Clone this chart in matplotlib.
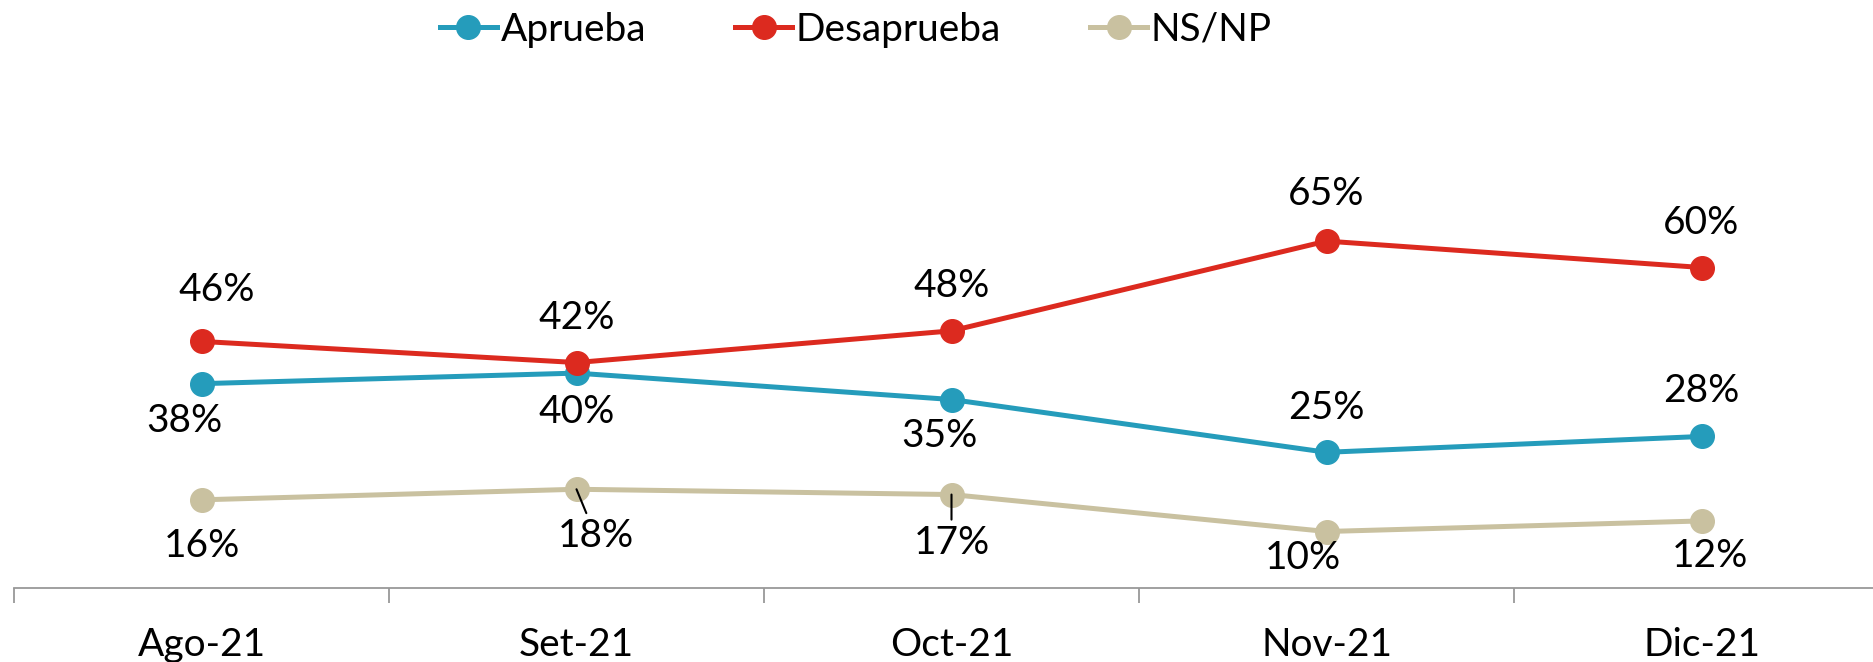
import numpy as np
import matplotlib.pyplot as plt

plt.rcParams['font.family'] = ['Lato', 'DejaVu Sans']

meses = ['Ago-21', 'Set-21', 'Oct-21', 'Nov-21', 'Dic-21']
aprueba = [38, 40, 35, 25, 28]
desaprueba = [46, 42, 48, 65, 60]
nsnp = [16, 18, 17, 10, 12]

c_apr = '#259cbb'
c_des = '#dc2a1f'
c_ns = '#c9c1a0'

# label offsets in points (dx, dy)
off_apr = [(-12, -27), (0, -28), (-9, -26), (0, 32), (0, 33)]
off_des = [(11, 37), (0, 32), (0, 32), (0, 34), (0, 32)]
off_ns = [(0, -33), (14, -34), (0, -35), (-17, -19), (6, -25)]
leader_ns = [False, True, True, False, False]

fig = plt.figure(figsize=(18.73, 6.62), dpi=100)
# the category axis runs a little past the right edge of the figure
ax = fig.add_axes([14 / 1873, 1 - 588 / 662, 5 * 375 / 1873, (588 - 60) / 662])

x = np.arange(len(meses))
lw = 3.6
ms = 17
ax.plot(x, aprueba, color=c_apr, lw=lw, marker='o', ms=ms, label='Aprueba', zorder=3)
ax.plot(x, desaprueba, color=c_des, lw=lw, marker='o', ms=ms, label='Desaprueba', zorder=4)
ax.plot(x, nsnp, color=c_ns, lw=lw, marker='o', ms=ms, label='NS/NP', zorder=2)

fs = 28
for vals, offs in [(aprueba, off_apr), (desaprueba, off_des)]:
    for i, v in enumerate(vals):
        ax.annotate('%d%%' % v, (x[i], v), xytext=offs[i], textcoords='offset points',
                    ha='center', va='center', fontsize=fs)
for i, v in enumerate(nsnp):
    ap = None
    if leader_ns[i]:
        ap = dict(arrowstyle='-', color='black', lw=1.5, shrinkA=2, shrinkB=0)
    ax.annotate('%d%%' % v, (x[i], v), xytext=off_ns[i], textcoords='offset points',
                ha='center', va='center', fontsize=fs, arrowprops=ap, zorder=5)

ax.set_xlim(-0.5, 4.5)
ax.set_ylim(-0.7, 99.3)
for s in ['top', 'right', 'left']:
    ax.spines[s].set_visible(False)
ax.spines['bottom'].set_color('#999999')
ax.spines['bottom'].set_linewidth(1.3)
ax.set_yticks([])
ax.set_xticks(x)
ax.set_xticklabels(meses, fontsize=fs)
ax.tick_params(axis='x', which='major', length=0, pad=28)
ax.set_xticks(np.arange(-0.5, 5.0, 1.0), minor=True)
ax.tick_params(axis='x', which='minor', length=11, width=1.3, color='#999999', direction='out')

fig.legend(loc='center', bbox_to_anchor=(0.457, 1 - 30 / 662), ncol=3, frameon=False,
           fontsize=fs, handlelength=1.45, handletextpad=0.1, columnspacing=2.3,
           markerscale=1.0)

fig.savefig('out.png', dpi=100)
